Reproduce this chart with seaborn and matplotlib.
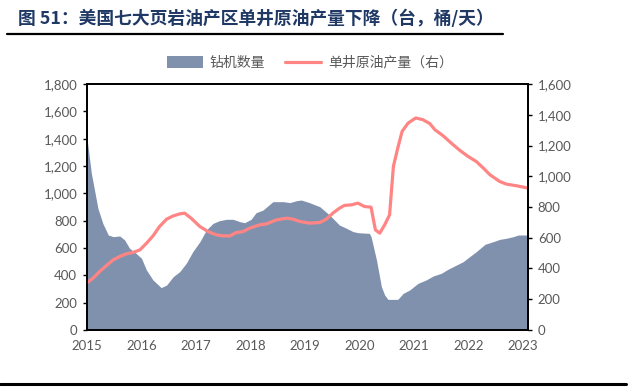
import matplotlib
matplotlib.use("Agg")
import matplotlib.pyplot as plt
import seaborn as sns
import pandas as pd
from matplotlib.patches import Patch
from matplotlib.lines import Line2D
from matplotlib.ticker import FuncFormatter

# 钻机数量 (left axis), decimal year
rig_t = [2015.0, 2015.08, 2015.2, 2015.29, 2015.39, 2015.48, 2015.6, 2015.69, 2015.78, 2015.9,
         2016.0, 2016.09, 2016.21, 2016.36, 2016.46, 2016.58, 2016.7, 2016.82, 2016.94, 2017.07,
         2017.19, 2017.31, 2017.43, 2017.56, 2017.68, 2017.8, 2017.89, 2018.01, 2018.1, 2018.23,
         2018.3, 2018.41, 2018.6, 2018.72, 2018.84, 2018.93, 2019.08, 2019.27, 2019.45, 2019.63,
         2019.76, 2019.88, 2019.97, 2020.18, 2020.21, 2020.31, 2020.4, 2020.46, 2020.52, 2020.7,
         2020.8, 2020.92, 2021.07, 2021.22, 2021.35, 2021.5, 2021.62, 2021.78, 2021.9, 2022.02,
         2022.14, 2022.3, 2022.45, 2022.57, 2022.69, 2022.82, 2022.91, 2023.09]
rig_n = [1402, 1146, 890, 780, 695, 683, 688, 659, 598, 561,
         524, 439, 366, 310, 329, 390, 427, 488, 573, 646,
         732, 780, 800, 810, 810, 793, 785, 810, 858, 878,
         902, 939, 939, 932, 946, 951, 932, 902, 841, 768,
         744, 720, 712, 707, 683, 512, 317, 256, 224, 224,
         268, 293, 341, 366, 395, 415, 444, 476, 500, 537,
         573, 627, 646, 663, 671, 683, 695, 695]

# 单井原油产量 (right axis)
oil_t = [2015.0, 2015.11, 2015.23, 2015.35, 2015.48, 2015.6, 2015.72, 2015.84, 2015.97, 2016.09,
         2016.21, 2016.33, 2016.46, 2016.58, 2016.7, 2016.79, 2016.91, 2017.07, 2017.22, 2017.37,
         2017.5, 2017.62, 2017.74, 2017.86, 2017.98, 2018.17, 2018.29, 2018.47, 2018.66, 2018.78,
         2018.9, 2019.08, 2019.27, 2019.39, 2019.51, 2019.63, 2019.72, 2019.85, 2019.97, 2020.09,
         2020.21, 2020.29, 2020.37, 2020.46, 2020.55, 2020.62, 2020.7, 2020.78, 2020.89, 2021.03,
         2021.16, 2021.29, 2021.38, 2021.53, 2021.68, 2021.84, 2021.99, 2022.14, 2022.27, 2022.39,
         2022.57, 2022.69, 2022.88, 2023.09]
oil_v = [308, 337, 380, 417, 456, 478, 495, 504, 521, 564,
         612, 673, 721, 742, 755, 760, 727, 673, 640, 619,
         612, 612, 634, 640, 662, 684, 690, 716, 727, 721,
         706, 695, 699, 721, 760, 792, 810, 814, 825, 803,
         799, 651, 630, 684, 749, 1064, 1183, 1292, 1346, 1379,
         1368, 1342, 1303, 1264, 1216, 1168, 1129, 1096, 1053, 1010,
         966, 949, 938, 923]

years = list(range(2015, 2024))

sns.set_theme(style="white")
plt.rcParams["font.family"] = ["Lato", "Noto Sans CJK SC", "DejaVu Sans"]
cjk = ["Noto Sans CJK SC", "DejaVu Sans"]

area_col = "#8091AE"
line_col = "#FF8585"
tick_col = "#595959"

fig = plt.figure(figsize=(6.32, 3.88), dpi=100)
ax = fig.add_axes([0.1377, 0.1495, 0.6978, 0.634])

ax.fill_between(rig_t, rig_n, 0, color=area_col, linewidth=0)
ax.set_xlim(2015, 2023.09)
ax.set_ylim(0, 1800)
ax.set_yticks(range(0, 1801, 200))
ax.set_xticks(years)
ax.set_xticklabels([str(y) for y in years])

ax2 = ax.twinx()
df = pd.DataFrame({"t": oil_t, "v": oil_v})
sns.lineplot(data=df, x="t", y="v", ax=ax2, color=line_col, linewidth=2.3)
ax2.set_ylim(0, 1600)
ax2.set_yticks(range(0, 1601, 200))
ax2.set_xlim(2015, 2023.09)

fmt = FuncFormatter(lambda v, p: f"{int(v):,}")
for a in (ax, ax2):
    a.yaxis.set_major_formatter(fmt)
    a.set_xlabel("")
    a.set_ylabel("")
    a.grid(False)
    a.tick_params(axis="both", direction="out", length=3, width=1, color="black",
                  labelsize=9.5, labelcolor=tick_col, pad=4)
    for s in a.spines.values():
        s.set_color("black")
        s.set_linewidth(1.3)

# legend
handles = [Patch(facecolor=area_col, edgecolor="none"),
           Line2D([0], [0], color=line_col, linewidth=2.3)]
labels = ["钻机数量", "单井原油产量（右）"]
fig.legend(handles, labels, loc="center", bbox_to_anchor=(0.49, 0.838), ncol=2,
           frameon=False, prop={"family": cjk, "size": 10}, labelcolor=tick_col,
           handlelength=2.6, handleheight=0.9, columnspacing=1.4, handletextpad=0.5)

# title and rules
fig.text(0.028, 0.951, "图 51：美国七大页岩油产区单井原油产量下降（台，桶/天）",
         family=cjk, fontsize=12.8, fontweight="bold", color="#1F3864", va="center", ha="left")
fig.add_artist(Line2D([0.011, 0.796], [0.913, 0.913], color="black", linewidth=1.6))
fig.add_artist(Line2D([0.0, 0.99], [0.011, 0.011], color="black", linewidth=2.2))

fig.savefig("out.png", dpi=100)
